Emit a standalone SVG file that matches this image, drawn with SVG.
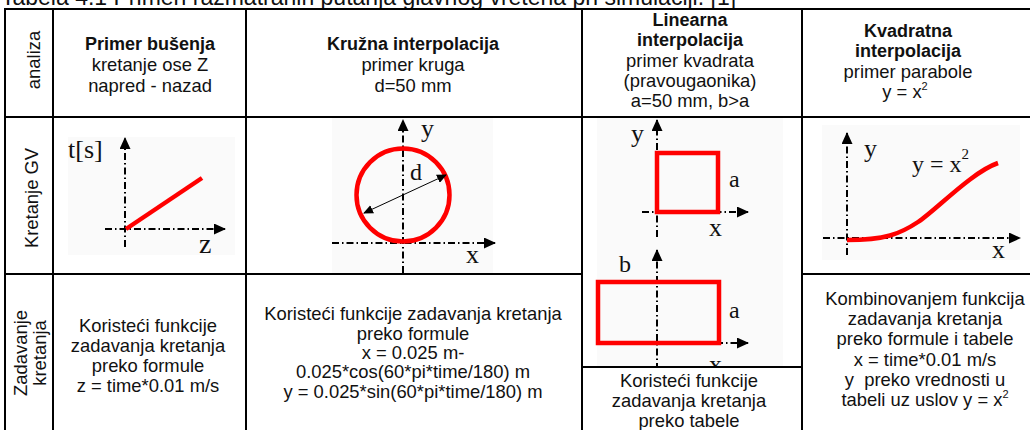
<svg xmlns="http://www.w3.org/2000/svg" width="1030" height="430" viewBox="0 0 1030 430">
<style>
.t{font-family:"Liberation Sans",Arial,sans-serif;font-size:18.4px;fill:#111;text-anchor:middle}
.b{font-weight:bold;font-size:18px}
.s{font-family:"Liberation Serif","Times New Roman",serif;fill:#111}
.grid{stroke:#000;stroke-width:2;fill:none}
.ax{stroke:#000;stroke-width:2;fill:none;stroke-dasharray:7 3 1.5 3}
.red{stroke:#f00;stroke-width:4.5;fill:none}
.bg{fill:#fafafa}
</style>
<defs>
<marker id="ah" markerUnits="userSpaceOnUse" markerWidth="12" markerHeight="11" refX="11" refY="5.5" orient="auto-start-reverse" viewBox="0 0 12 11"><path d="M0,0 L12,5.5 L0,11 z" fill="#000"/></marker>
<marker id="ahs" markerUnits="userSpaceOnUse" markerWidth="10" markerHeight="9" refX="9" refY="4.5" orient="auto-start-reverse" viewBox="0 0 10 9"><path d="M0,0 L10,4.5 L0,9 z" fill="#000"/></marker>
<clipPath id="clip4"><rect x="583" y="118" width="218" height="248"/></clipPath>
</defs>
<rect width="1030" height="430" fill="#fff"/>
<text x="1" y="5" style="font-family:'Liberation Sans',Arial,sans-serif;font-size:23px;fill:#111">Tabela 4.1 Primeri razmatranih putanja glavnog vretena pri simulaciji. [1]</text>

<g id="grid" class="grid">
<line x1="5" y1="9" x2="1035" y2="9"/>
<line x1="5" y1="117" x2="1035" y2="117"/>
<line x1="5" y1="274" x2="582" y2="274"/>
<line x1="802" y1="274" x2="1035" y2="274"/>
<line x1="582" y1="367" x2="802" y2="367"/>
<line x1="5" y1="8" x2="5" y2="431"/>
<line x1="53" y1="8" x2="53" y2="431"/>
<line x1="246" y1="8" x2="246" y2="431"/>
<line x1="582" y1="8" x2="582" y2="431"/>
<line x1="802" y1="8" x2="802" y2="431"/>
</g>

<g id="row-labels">
<text class="t" transform="translate(40,60) rotate(-90)">analiza</text>
<text class="t" transform="translate(38,198) rotate(-90)">Kretanje GV</text>
<text class="t" transform="translate(27,353) rotate(-90)">Zadavanje</text>
<text class="t" transform="translate(46,353) rotate(-90)">kretanja</text>
</g>

<g id="h-busenje">
<text class="t b" x="150" y="50">Primer bušenja</text>
<text class="t" x="150" y="71">kretanje ose Z</text>
<text class="t" x="150" y="92">napred - nazad</text>
</g>
<g id="h-kruzna">
<text class="t b" x="413" y="50">Kružna interpolacija</text>
<text class="t" x="413" y="71">primer kruga</text>
<text class="t" x="413" y="92">d=50 mm</text>
</g>
<g id="h-linearna">
<text class="t b" x="690" y="26">Linearna</text>
<text class="t b" x="690" y="46">interpolacija</text>
<text class="t" x="690" y="67">primer kvadrata</text>
<text class="t" x="690" y="87">(pravougaonika)</text>
<text class="t" x="690" y="107">a=50 mm, b&gt;a</text>
</g>
<g id="h-kvadratna">
<text class="t b" x="908" y="37">Kvadratna</text>
<text class="t b" x="908" y="57">interpolacija</text>
<text class="t" x="908" y="78">primer parabole</text>
<text class="t" x="905" y="98">y = x<tspan font-size="11" dy="-8">2</tspan></text>
</g>

<g id="fig-busenje">
<rect class="bg" x="68" y="137" width="167" height="118"/>
<line class="ax" x1="125" y1="247" x2="125" y2="138" marker-end="url(#ah)"/>
<line class="ax" x1="105" y1="229" x2="225" y2="229" marker-end="url(#ah)"/>
<line class="red" x1="126" y1="229" x2="202" y2="178"/>
<text class="s" x="68" y="158" font-size="26">t[s]</text>
<text class="s" x="199" y="253" font-size="28">z</text>
</g>

<g id="fig-kruzna">
<rect class="bg" x="332" y="118" width="161" height="155"/>
<line class="ax" x1="403" y1="273" x2="403" y2="120" marker-end="url(#ah)"/>
<line class="ax" x1="332" y1="243" x2="495" y2="243" marker-end="url(#ah)"/>
<circle class="red" cx="403" cy="195" r="46.5"/>
<line x1="364" y1="213" x2="446" y2="175" stroke="#000" stroke-width="1" marker-start="url(#ahs)" marker-end="url(#ahs)"/>
<text class="s" x="421" y="137" font-size="26">y</text>
<text class="s" x="410" y="180" font-size="24">d</text>
<text class="s" x="466" y="263" font-size="26">x</text>
</g>

<g id="fig-linearna" clip-path="url(#clip4)">
<rect class="bg" x="597" y="117" width="186" height="250"/>
<line class="ax" x1="657" y1="237" x2="657" y2="120" marker-end="url(#ah)"/>
<line class="ax" x1="642" y1="212" x2="748" y2="212" marker-end="url(#ah)"/>
<rect class="red" x="657" y="153" width="61" height="59"/>
<text class="s" x="631" y="142" font-size="26">y</text>
<text class="s" x="729" y="187" font-size="24">a</text>
<text class="s" x="709" y="236" font-size="26">x</text>
<line class="ax" x1="657" y1="370" x2="657" y2="250" marker-end="url(#ah)"/>
<line class="ax" x1="600" y1="343" x2="748" y2="343" marker-end="url(#ah)"/>
<rect class="red" x="598" y="282" width="121" height="61"/>
<text class="s" x="619" y="272" font-size="24">b</text>
<text class="s" x="729" y="318" font-size="24">a</text>
<text class="s" x="709" y="373" font-size="26">x</text>
</g>

<g id="fig-kvadratna">
<rect class="bg" x="822" y="125" width="198" height="135"/>
<line class="ax" x1="847" y1="255" x2="847" y2="133" marker-end="url(#ah)"/>
<line class="ax" x1="823" y1="238" x2="1020" y2="238" marker-end="url(#ah)"/>
<path class="red" d="M847,240 C885,240 900,234 918,222 S 972,172 998,163"/>
<text class="s" x="864" y="157" font-size="26">y</text>
<text class="s" x="912" y="172" font-size="24">y = x<tspan font-size="15" dy="-13">2</tspan></text>
<text class="s" x="992" y="258" font-size="26">x</text>
</g>

<g id="z-busenje">
<text class="t" x="148" y="332">Koristeći funkcije</text>
<text class="t" x="148" y="352">zadavanja kretanja</text>
<text class="t" x="148" y="372">preko formule</text>
<text class="t" x="148" y="392">z = time*0.01 m/s</text>
</g>
<g id="z-kruzna">
<text class="t" x="413" y="320">Koristeći funkcije zadavanja kretanja</text>
<text class="t" x="413" y="340">preko formule</text>
<text class="t" x="413" y="359">x = 0.025 m-</text>
<text class="t" x="413" y="378">0.025*cos(60*pi*time/180) m</text>
<text class="t" x="413" y="398">y = 0.025*sin(60*pi*time/180) m</text>
</g>
<g id="z-linearna">
<text class="t" x="689" y="387">Koristeći funkcije</text>
<text class="t" x="689" y="407">zadavanja kretanja</text>
<text class="t" x="689" y="427">preko tabele</text>
</g>
<g id="z-kvadratna">
<text class="t" x="925" y="305">Kombinovanjem funkcija</text>
<text class="t" x="925" y="325">zadavanja kretanja</text>
<text class="t" x="925" y="345">preko formule i tabele</text>
<text class="t" x="925" y="366">x = time*0.01 m/s</text>
<text class="t" x="925" y="386">y&#160; preko vrednosti u</text>
<text class="t" x="925" y="406">tabeli uz uslov y = x<tspan font-size="11" dy="-8">2</tspan></text>
</g>
</svg>
